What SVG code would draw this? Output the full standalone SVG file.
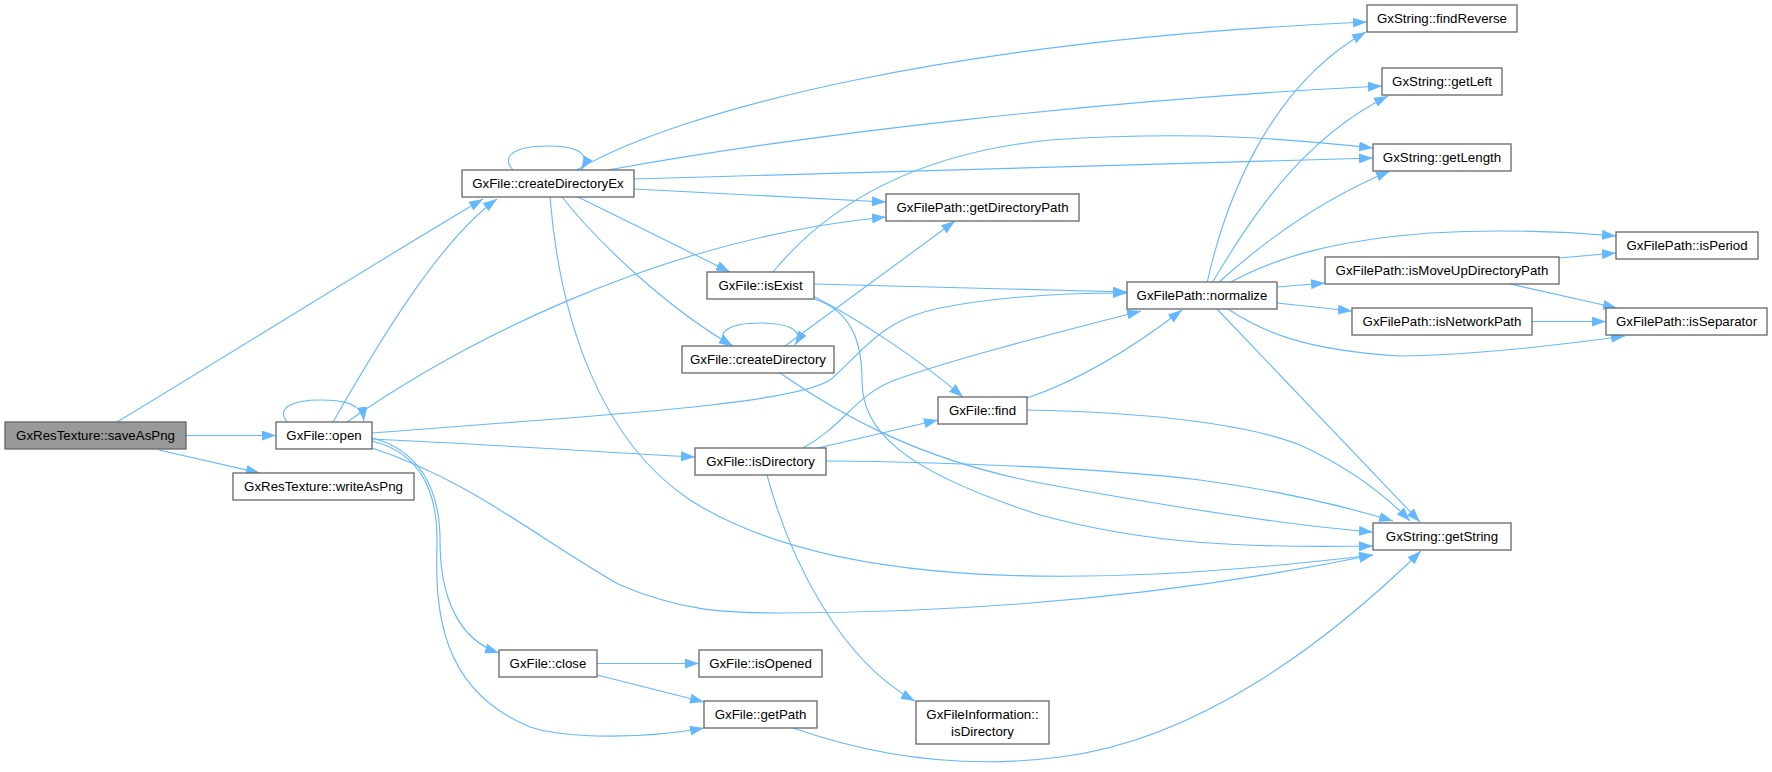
<svg xmlns="http://www.w3.org/2000/svg" width="1772" height="772" viewBox="0 0 1772 772">
<style>
.n rect{fill:#ffffff;stroke:#666666;stroke-width:1.3}
.n text{font-family:"Liberation Sans",Arial,sans-serif;font-size:13.3px;fill:#000000;text-anchor:middle}
#n_saveAsPng rect{fill:#999999}
#edges path{fill:none;stroke:#63b8ff;stroke-width:1.1;marker-end:url(#ah)}
</style>
<defs>
<marker id="ah" viewBox="0 -5 14 10" refX="14" refY="0" markerWidth="14" markerHeight="10" markerUnits="userSpaceOnUse" orient="auto">
<path d="M0,-5 L14,0 L0,5 z" fill="#63b8ff"/>
</marker>
</defs>
<rect width="1772" height="772" fill="#ffffff"/>
<g id="edges">
<path d="M117,422 C 220,360 380,260 483,199"/>
<path d="M186,435.5 L276,435.5"/>
<path d="M159,450 L260,473"/>
<path d="M287,422 C 276,408 292,400 320,400 C 345,400 362,404 364,421"/>
<path d="M333,422 C 380,340 440,240 497,199"/>
<path d="M347,422 C 450,350 650,240 886,217"/>
<path d="M372,433 C 600,415 790,405 830,380 C 865,350 880,320 940,308 C 1000,296 1070,293 1127,293"/>
<path d="M372,439 C 500,445 600,452 695,457"/>
<path d="M372,448 C 470,480 540,540 620,585 C 680,610 720,613 780,613 C 1050,613 1250,580 1373,555"/>
<path d="M372,438 C 420,450 440,490 440,540 C 440,600 460,640 499,653"/>
<path d="M372,441 C 420,453 438,490 437,545 C 435,610 440,690 530,727 C 570,740 650,738 704,728"/>
<path d="M513,170 C 500,156 515,146 547,146 C 575,146 592,152 581,170"/>
<path d="M577,170 C 680,110 950,40 1367,22"/>
<path d="M608,170 C 800,135 1100,100 1382,86"/>
<path d="M634,179 L1373,158"/>
<path d="M634,189 L886,202"/>
<path d="M578,197 L730,272"/>
<path d="M562,197 C 600,245 670,310 733,346"/>
<path d="M550,197 C 560,320 600,440 690,500 C 800,570 1000,600 1373,555"/>
<path d="M773,272 C 820,215 900,155 1050,140 C 1200,130 1300,140 1373,148"/>
<path d="M814,284 L1127,292"/>
<path d="M813,296 C 860,320 920,360 963,397"/>
<path d="M814,299 C 850,310 862,340 862,380 C 862,430 900,470 1040,515 C 1150,545 1250,548 1373,546"/>
<path d="M727,346 C 714,332 730,323 760,323 C 786,323 805,329 795,345"/>
<path d="M785,346 L955,221"/>
<path d="M780,373 C 840,415 920,460 1040,483 C 1150,503 1280,525 1373,532"/>
<path d="M803,448 C 845,425 855,395 895,380 C 960,357 1060,332 1141,311"/>
<path d="M818,448 L938,420"/>
<path d="M826,461 C 950,462 1100,468 1200,480 C 1290,492 1350,508 1393,521"/>
<path d="M767,475 C 790,560 840,660 915,701"/>
<path d="M1027,398 C 1080,380 1130,350 1182,310"/>
<path d="M1027,410 C 1150,412 1250,425 1300,445 C 1350,468 1385,495 1410,521"/>
<path d="M1207,283 C 1230,180 1280,80 1366,32"/>
<path d="M1212,283 C 1250,220 1300,140 1388,96"/>
<path d="M1218,283 C 1260,245 1320,200 1390,171"/>
<path d="M1229,283 C 1280,255 1340,240 1430,233 C 1500,229 1570,232 1616,236"/>
<path d="M1277,287 L1325,283"/>
<path d="M1277,303 L1352,311"/>
<path d="M1228,309 C 1260,330 1300,350 1400,356 C 1480,355 1560,345 1625,336"/>
<path d="M1217,309 L1420,522"/>
<path d="M1559,258 L1616,253"/>
<path d="M1510,284 L1617,308"/>
<path d="M1532,321.5 L1606,321.5"/>
<path d="M597,663.5 L699,663.5"/>
<path d="M597,675 L704,702"/>
<path d="M793,728 C 870,755 960,770 1060,757 C 1200,740 1330,640 1421,551"/>
</g>
<g id="n_saveAsPng" class="n"><rect x="5" y="422" width="181" height="27"/><text x="95.5" y="440.2">GxResTexture::saveAsPng</text></g>
<g id="n_open" class="n"><rect x="276" y="422" width="96" height="27"/><text x="324" y="440.2">GxFile::open</text></g>
<g id="n_writeAsPng" class="n"><rect x="233" y="473" width="181" height="27"/><text x="323.5" y="491.2">GxResTexture::writeAsPng</text></g>
<g id="n_createDirectoryEx" class="n"><rect x="462" y="170" width="172" height="27"/><text x="548" y="188.2">GxFile::createDirectoryEx</text></g>
<g id="n_getDirectoryPath" class="n"><rect x="886" y="194" width="193" height="27"/><text x="982.5" y="212.2">GxFilePath::getDirectoryPath</text></g>
<g id="n_isExist" class="n"><rect x="707" y="272" width="107" height="27"/><text x="760.5" y="290.2">GxFile::isExist</text></g>
<g id="n_createDirectory" class="n"><rect x="682" y="346" width="152" height="27"/><text x="758" y="364.2">GxFile::createDirectory</text></g>
<g id="n_find" class="n"><rect x="938" y="397" width="89" height="27"/><text x="982.5" y="415.2">GxFile::find</text></g>
<g id="n_isDirectory" class="n"><rect x="695" y="448" width="131" height="27"/><text x="760.5" y="466.2">GxFile::isDirectory</text></g>
<g id="n_normalize" class="n"><rect x="1127" y="282" width="150" height="27"/><text x="1202" y="300.2">GxFilePath::normalize</text></g>
<g id="n_findReverse" class="n"><rect x="1367" y="5" width="150" height="27"/><text x="1442" y="23.2">GxString::findReverse</text></g>
<g id="n_getLeft" class="n"><rect x="1382" y="68" width="120" height="27"/><text x="1442" y="86.2">GxString::getLeft</text></g>
<g id="n_getLength" class="n"><rect x="1373" y="144" width="138" height="27"/><text x="1442" y="162.2">GxString::getLength</text></g>
<g id="n_isPeriod" class="n"><rect x="1616" y="232" width="142" height="27"/><text x="1687" y="250.2">GxFilePath::isPeriod</text></g>
<g id="n_isMoveUpDirectoryPath" class="n"><rect x="1325" y="257" width="234" height="27"/><text x="1442" y="275.2">GxFilePath::isMoveUpDirectoryPath</text></g>
<g id="n_isNetworkPath" class="n"><rect x="1352" y="308" width="180" height="27"/><text x="1442" y="326.2">GxFilePath::isNetworkPath</text></g>
<g id="n_isSeparator" class="n"><rect x="1606" y="308" width="161" height="27"/><text x="1686.5" y="326.2">GxFilePath::isSeparator</text></g>
<g id="n_getString" class="n"><rect x="1373" y="523" width="138" height="27"/><text x="1442" y="541.2">GxString::getString</text></g>
<g id="n_close" class="n"><rect x="499" y="650" width="98" height="27"/><text x="548" y="668.2">GxFile::close</text></g>
<g id="n_isOpened" class="n"><rect x="699" y="650" width="123" height="27"/><text x="760.5" y="668.2">GxFile::isOpened</text></g>
<g id="n_getPath" class="n"><rect x="704" y="701" width="113" height="27"/><text x="760.5" y="719.2">GxFile::getPath</text></g>
<g id="n_fileInfoIsDirectory" class="n"><rect x="916" y="701" width="133" height="43"/><text x="982.5" y="719">GxFileInformation::</text><text x="982.5" y="735.5">isDirectory</text></g>
</svg>
